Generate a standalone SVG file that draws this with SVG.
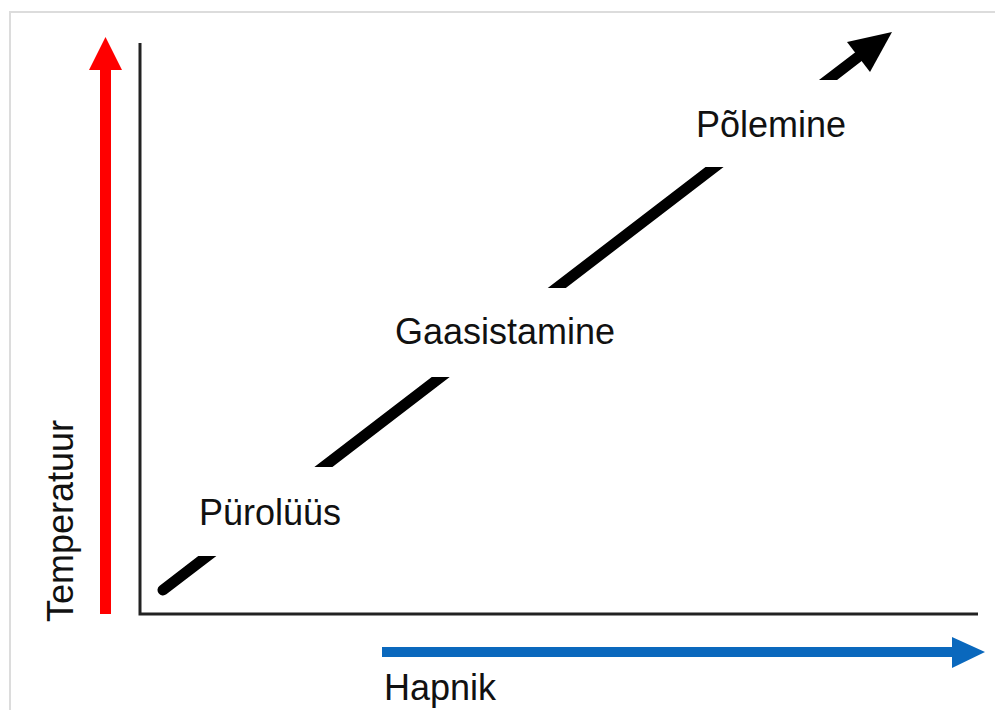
<svg xmlns="http://www.w3.org/2000/svg" width="995" height="710" viewBox="0 0 995 710">
<style>
.lbl{font-family:"Liberation Sans",Arial,sans-serif;font-size:36px;fill:#111;}
.axis{stroke:#222;stroke-width:3;fill:none;}
</style>
<defs>
<clipPath id="gaps">
<rect x="140" y="556" width="120" height="50"/>
<rect x="280" y="377" width="200" height="90"/>
<rect x="500" y="167" width="260" height="121"/>
<rect x="780" y="30" width="120" height="50"/>
</clipPath>
</defs>
<rect width="995" height="710" fill="#fff"/>
<g id="frame"><rect x="10" y="12" width="1000" height="720" fill="none" stroke="#dcdcdc" stroke-width="2"/></g>
<g id="connectors">
<g id="axes">
<polyline class="axis" points="140,43 140,614 978,614"/>
</g>
<g id="temperature-arrow">
<rect x="100" y="68" width="11" height="546" fill="#ff0000"/>
<polygon points="105.5,37 122,70 89,70" fill="#ff0000"/>
</g>
<g id="oxygen-arrow">
<rect x="382" y="647" width="572" height="10" fill="#0a68bd"/>
<polygon points="952,637 985,652 952,668" fill="#0a68bd"/>
</g>
<g id="process-line">
<g clip-path="url(#gaps)">
<line x1="163" y1="590" x2="858" y2="57" stroke="#000" stroke-width="11" stroke-linecap="round"/>
</g>
<polygon points="892,32 847,42 870,72" fill="#000"/>
</g>
</g>
<g id="label-pyrolysis"><text class="lbl" x="199" y="525">Pürolüüs</text></g>
<g id="label-gasification"><text class="lbl" x="395" y="344">Gaasistamine</text></g>
<g id="label-combustion"><text class="lbl" x="696" y="137">Põlemine</text></g>
<g id="label-oxygen"><text class="lbl" x="384" y="700">Hapnik</text></g>
<g id="label-temperature"><text class="lbl" transform="translate(73,622) rotate(-90)">Temperatuur</text></g>
</svg>
